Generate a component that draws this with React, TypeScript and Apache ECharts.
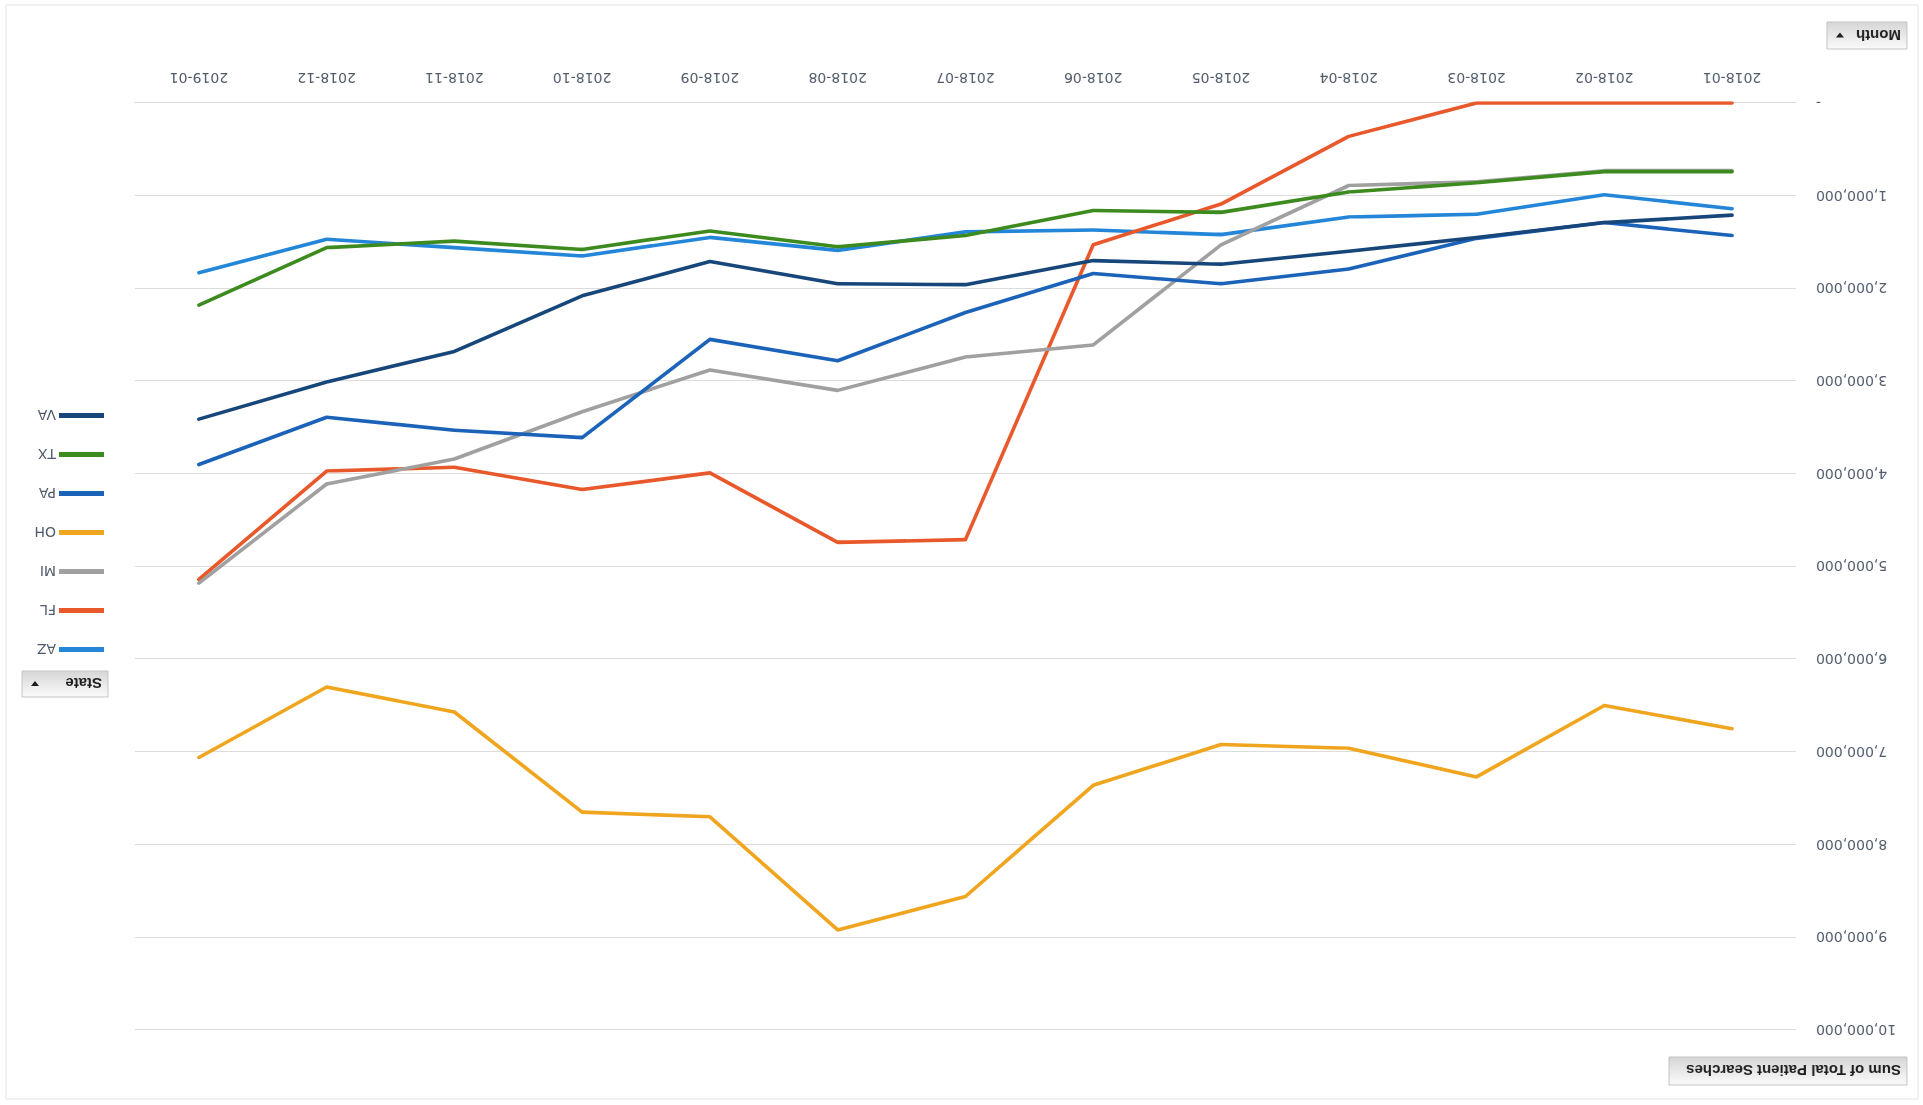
import React, { useEffect, useRef } from "react";
import * as echarts from "echarts";

const months = ["2018-01", "2018-02", "2018-03", "2018-04", "2018-05", "2018-06", "2018-07", "2018-08", "2018-09", "2018-10", "2018-11", "2018-12", "2019-01"];

const AZ = [1140000, 990000, 1200000, 1230000, 1420000, 1370000, 1390000, 1590000, 1450000, 1650000, 1560000, 1470000, 1830000];
const FL = [0, 0, 0, 360000, 1090000, 1530000, 4710000, 4740000, 3990000, 4170000, 3930000, 3970000, 5140000];
const MI = [730000, 730000, 850000, 890000, 1530000, 2610000, 2740000, 3100000, 2880000, 3330000, 3840000, 4110000, 5180000];
const OH = [6750000, 6500000, 7270000, 6960000, 6920000, 7360000, 8560000, 8920000, 7700000, 7650000, 6570000, 6300000, 7060000];
const PA = [1430000, 1290000, 1460000, 1790000, 1950000, 1840000, 2260000, 2780000, 2550000, 3610000, 3530000, 3390000, 3900000];
const TX = [740000, 740000, 860000, 960000, 1180000, 1160000, 1430000, 1550000, 1380000, 1580000, 1490000, 1560000, 2180000];
const VA = [1210000, 1290000, 1450000, 1600000, 1740000, 1700000, 1960000, 1950000, 1710000, 2080000, 2680000, 3010000, 3410000];

const stateNames = ["AZ", "FL", "MI", "OH", "PA", "TX", "VA"];
const stateValues = [AZ, FL, MI, OH, PA, TX, VA];
const stateColors = ["#2486d8", "#e8582a", "#a0a0a0", "#f0a51e", "#1b63b9", "#3d8b1f", "#17477a"];

const yMin = 0;
const yMax = 10000000;
const yStep = 1000000;

const buttonTitles = { value: "Sum of Total Patient Searches", category: "Month", legend: "State" };

function fieldButton(x: number, y: number, w: number, h: number, label: string, arrow: boolean) {
  const children: any[] = [
    {
      type: "rect",
      shape: { x: 0, y: 0, width: w, height: h },
      style: {
        fill: {
          type: "linear", x: 0, y: 0, x2: 0, y2: 1,
          colorStops: [
            { offset: 0, color: "#fbfbfb" },
            { offset: 1, color: "#d6d6d6" },
          ],
        },
        stroke: "#c4c4c4",
        lineWidth: 1,
      },
    },
    {
      type: "text",
      x: 6,
      y: h / 2,
      style: {
        text: label,
        fill: "#1e1e1e",
        font: "bold 15px 'Liberation Sans', Arial, sans-serif",
        textVerticalAlign: "middle",
        verticalAlign: "middle",
      },
    },
  ];
  if (arrow) {
    children.push({
      type: "polygon",
      shape: { points: [[w - 17, h / 2 - 2], [w - 9, h / 2 - 2], [w - 13, h / 2 + 3]] },
      style: { fill: "#1e1e1e" },
    });
  }
  return { type: "group", x, y, children };
}

export default function App() {
  const ref = useRef<HTMLDivElement>(null);

  useEffect(() => {
    if (!ref.current) return;
    const chart = echarts.init(ref.current, undefined, { renderer: "svg" });
    chart.setOption({
      animation: false,
      backgroundColor: "#ffffff",
      textStyle: { fontFamily: "'DejaVu Sans', sans-serif" },
      grid: { left: 127, right: 135, top: 75, bottom: 103, containLabel: false },
      xAxis: {
        type: "category",
        data: months,
        boundaryGap: true,
        axisLine: { show: true, lineStyle: { color: "#d9d9d9", width: 1 } },
        axisTick: { show: false },
        axisLabel: { color: "#4f5a6a", fontSize: 14, margin: 18 },
        splitLine: { show: false },
      },
      yAxis: {
        type: "value",
        min: yMin,
        max: yMax,
        interval: yStep,
        axisLine: { show: false },
        axisTick: { show: false },
        splitLine: { show: true, lineStyle: { color: "#dcdcdc", width: 1 } },
        axisLabel: {
          color: "#4f5a6a",
          fontSize: 14,
          margin: 20,
          formatter: (v: number) => (v === 0 ? "-" : v.toLocaleString("en-US")),
        },
      },
      legend: {
        orient: "vertical",
        left: 1819,
        top: 447,
        padding: 0,
        icon: "rect",
        itemWidth: 45,
        itemHeight: 5,
        itemGap: 22,
        data: stateNames,
        textStyle: { color: "#4f5a6a", fontSize: 14, lineHeight: 17, padding: [0, 0, 0, -2] },
      },
      graphic: [
        {
          type: "rect",
          shape: { x: 5, y: 6, width: 1912, height: 1094 },
          style: { fill: "none", stroke: "#e4e4e4", lineWidth: 1 },
          silent: true,
        },
        fieldButton(16, 20, 238, 28, buttonTitles.value, false),
        fieldButton(16, 1056, 80, 27, buttonTitles.category, true),
        fieldButton(1815, 408, 86, 26, buttonTitles.legend, true),
      ],
      series: stateNames.map((name, i) => ({
        name,
        type: "line",
        data: stateValues[i],
        symbol: "none",
        showSymbol: false,
        color: stateColors[i],
        lineStyle: { color: stateColors[i], width: 3.6, cap: "round", join: "round" },
      })),
    });
    return () => chart.dispose();
  }, []);

  return (
    <div
      ref={ref}
      style={{
        position: "fixed",
        left: 0,
        top: 0,
        width: 1923,
        height: 1105,
        transform: "rotate(180deg)",
        transformOrigin: "50% 50%",
        background: "#fff",
      }}
    />
  );
}
